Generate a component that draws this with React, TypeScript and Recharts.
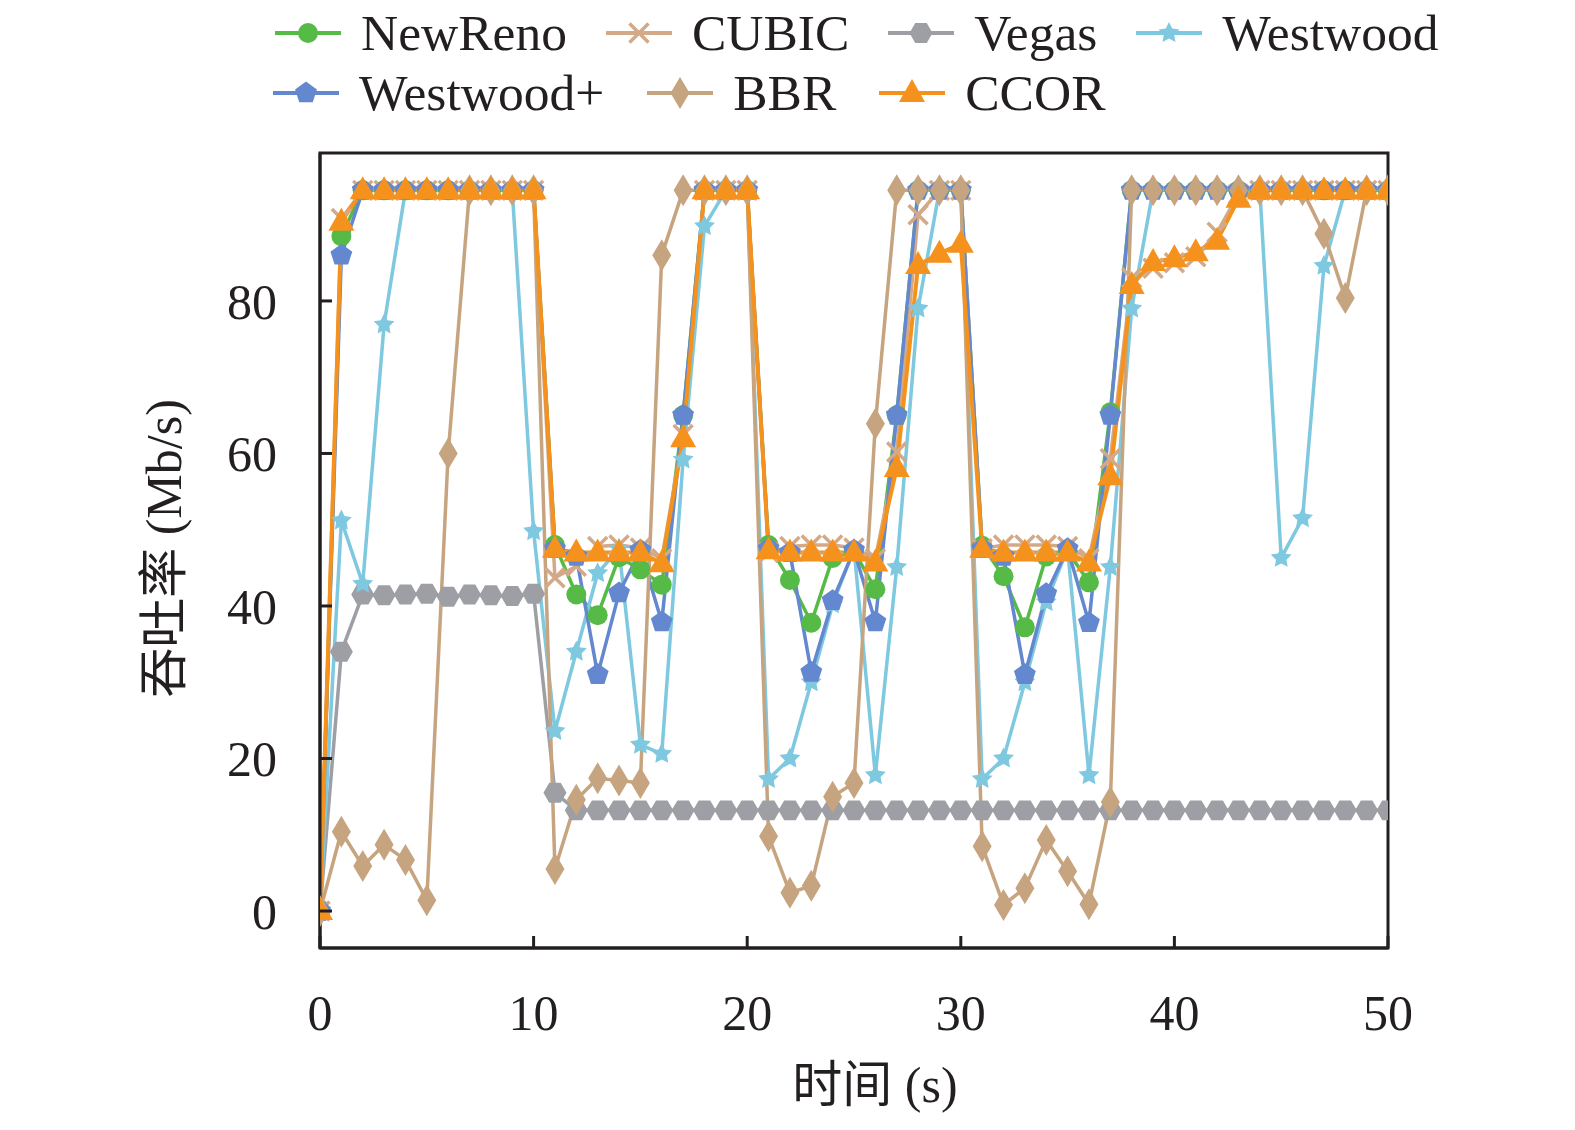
import React from 'react';
import { LineChart, Line, XAxis, YAxis, Legend, ReferenceArea } from 'recharts';

const TIME = [0, 1, 2, 3, 4, 5, 6, 7, 8, 9, 10, 11, 12, 13, 14, 15, 16, 17, 18, 19, 20, 21, 22, 23, 24, 25, 26, 27, 28, 29, 30, 31, 32, 33, 34, 35, 36, 37, 38, 39, 40, 41, 42, 43, 44, 45, 46, 47, 48, 49, 50];

const NEWRENO = [0, 88.5, 94.5, 94.5, 94.5, 94.5, 94.5, 94.5, 94.5, 94.5, 94.5, 48, 41.5, 38.8, 46.4, 44.8, 42.8, 65, 94.5, 94.5, 94.5, 48, 43.4, 37.8, 46.3, 47.2, 42.2, 65, 94.5, 94.5, 94.5, 47.9, 43.9, 37.2, 46.5, 47.2, 43.1, 65.4, 94.5, 94.5, 94.5, 94.5, 94.5, 94.5, 94.5, 94.5, 94.5, 94.5, 94.5, 94.5, 94.5];
const CUBIC = [0, 90.8, 94.5, 94.5, 94.5, 94.5, 94.5, 94.5, 94.5, 94.5, 94.5, 43.7, 45.2, 47.8, 48, 47.6, 46.2, 62.5, 94.5, 94.5, 94.5, 47, 47.8, 48, 48, 47.6, 46.2, 60.2, 91.3, 94.5, 94.5, 47.5, 48, 48, 48, 47.8, 46.2, 59.3, 83, 84.3, 85, 85.8, 89, 94, 94.5, 94.5, 94.5, 94.5, 94.5, 94.5, 94.5];
const VEGAS = [0, 34, 41.5, 41.4, 41.5, 41.6, 41.2, 41.5, 41.4, 41.3, 41.6, 15.5, 13.2, 13.2, 13.2, 13.2, 13.2, 13.2, 13.2, 13.2, 13.2, 13.2, 13.2, 13.2, 13.2, 13.2, 13.2, 13.2, 13.2, 13.2, 13.2, 13.2, 13.2, 13.2, 13.2, 13.2, 13.2, 13.2, 13.2, 13.2, 13.2, 13.2, 13.2, 13.2, 13.2, 13.2, 13.2, 13.2, 13.2, 13.2, 13.2];
const WESTWOOD = [0, 51.2, 42.9, 76.9, 94.5, 94.5, 94.5, 94.5, 94.5, 94.5, 49.8, 23.6, 34, 44.3, 47.5, 21.8, 20.6, 59.2, 89.8, 94.5, 94.5, 17.3, 20, 30, 40.2, 47.5, 17.8, 45.1, 79, 94.5, 94.5, 17.3, 20, 30, 40.5, 47.5, 17.8, 45.1, 79, 94.5, 94.5, 94.5, 94.5, 94.5, 94.5, 46.3, 51.5, 84.6, 94.5, 94.5, 94.5];
const WESTWOOD_PLUS = [0, 86, 94.5, 94.5, 94.5, 94.5, 94.5, 94.5, 94.5, 94.5, 94.5, 47.5, 46.5, 31, 41.7, 47.3, 37.9, 65, 94.5, 94.5, 94.5, 47.5, 47, 31.3, 40.7, 47.3, 37.9, 65, 94.5, 94.5, 94.5, 47.5, 46.5, 31, 41.6, 47.5, 37.8, 65, 94.5, 94.5, 94.5, 94.5, 94.5, 94.5, 94.5, 94.5, 94.5, 94.5, 94.5, 94.5, 94.5];
const BBR = [0, 10.4, 5.9, 8.7, 6.7, 1.4, 60, 94.5, 94.5, 94.5, 94.5, 5.5, 14.6, 17.4, 17.1, 16.8, 86, 94.5, 94.5, 94.5, 94.5, 9.8, 2.4, 3.3, 15, 16.8, 63.9, 94.5, 94.5, 94.5, 94.5, 8.5, 0.8, 3, 9.3, 5.2, 0.9, 14.3, 94.5, 94.5, 94.5, 94.5, 94.5, 94.5, 94.5, 94.5, 94.5, 88.8, 80.4, 94.5, 94.5];
const CCOR = [0, 90.4, 94.5, 94.5, 94.5, 94.5, 94.5, 94.5, 94.5, 94.5, 94.5, 47.5, 47, 47, 47, 47, 45.6, 62, 94.5, 94.5, 94.5, 47.3, 47, 47, 47, 47, 45.7, 58.1, 84.7, 86.2, 87.5, 47.5, 47, 47, 47, 47, 45.7, 57, 82.1, 85.1, 85.6, 86.4, 87.9, 93.4, 94.5, 94.5, 94.5, 94.5, 94.5, 94.5, 94.5];

const X_TICKS = [0, 10, 20, 30, 40, 50];
const Y_TICKS = [0, 20, 40, 60, 80];
const X_DOMAIN = [0, 50];
const Y_DOMAIN = [-4.85, 99.4];

const SERIES = [
  { key: 'NewReno', color: '#55BB46', shape: 'circle', values: NEWRENO },
  { key: 'CUBIC', color: '#D4A987', shape: 'cross', values: CUBIC },
  { key: 'Vegas', color: '#9D9FA4', shape: 'hexagon', values: VEGAS },
  { key: 'Westwood', color: '#7EC8E0', shape: 'star', values: WESTWOOD },
  { key: 'Westwood+', color: '#6388CF', shape: 'pentagon', values: WESTWOOD_PLUS },
  { key: 'BBR', color: '#C6A47F', shape: 'diamond', values: BBR },
  { key: 'CCOR', color: '#F5921E', shape: 'triangle', values: CCOR },
];

const LEGEND_ROWS = [
  ['NewReno', 'CUBIC', 'Vegas', 'Westwood'],
  ['Westwood+', 'BBR', 'CCOR'],
];

const data = TIME.map((t, i) => {
  const row: any = { t };
  SERIES.forEach((s) => {
    row[s.key] = s.values[i];
  });
  return row;
});

const FONT = '"Liberation Serif", "Times New Roman", "Noto Sans CJK SC", serif';
const INK = '#231F20';

function poly(cx: number, cy: number, n: number, r: number, rot: number) {
  const pts: string[] = [];
  for (let k = 0; k < n; k++) {
    const a = rot + (k * 2 * Math.PI) / n;
    pts.push(`${cx + r * Math.cos(a)},${cy + r * Math.sin(a)}`);
  }
  return pts.join(' ');
}

function starPts(cx: number, cy: number, ro: number, ri: number) {
  const pts: string[] = [];
  for (let k = 0; k < 10; k++) {
    const r = k % 2 === 0 ? ro : ri;
    const a = -Math.PI / 2 + (k * Math.PI) / 5;
    pts.push(`${cx + r * Math.cos(a)},${cy + r * Math.sin(a)}`);
  }
  return pts.join(' ');
}

function MarkerShape({ shape, cx, cy, color }: { shape: string; cx: number; cy: number; color: string }) {
  if (cx == null || cy == null || isNaN(cx) || isNaN(cy)) return null;
  switch (shape) {
    case 'circle':
      return <circle cx={cx} cy={cy} r={10} fill={color} />;
    case 'cross':
      return (
        <path
          d={`M${cx - 9.5},${cy - 9.5}L${cx + 9.5},${cy + 9.5}M${cx - 9.5},${cy + 9.5}L${cx + 9.5},${cy - 9.5}`}
          stroke={color}
          strokeWidth={3.5}
          fill="none"
        />
      );
    case 'hexagon':
      return <polygon points={poly(cx, cy, 6, 11.5, 0)} fill={color} />;
    case 'star':
      return <polygon points={starPts(cx, cy, 11, 5.5)} fill={color} />;
    case 'pentagon':
      return <polygon points={poly(cx, cy, 5, 11.5, -Math.PI / 2)} fill={color} />;
    case 'diamond':
      return <polygon points={`${cx},${cy - 16} ${cx + 9.5},${cy} ${cx},${cy + 16} ${cx - 9.5},${cy}`} fill={color} />;
    case 'triangle':
      return <polygon points={`${cx},${cy - 14} ${cx + 13},${cy + 9} ${cx - 13},${cy + 9}`} fill={color} />;
    default:
      return null;
  }
}

const XTick = (props: any) => {
  const { x, y, payload } = props;
  return (
    <g>
      <line x1={x} x2={x} y1={y} y2={y - 12} stroke={INK} strokeWidth={3} />
      <text x={x} y={y + 82} textAnchor="middle" fontFamily={FONT} fontSize={50} fill={INK}>
        {payload.value}
      </text>
    </g>
  );
};

const YTick = (props: any) => {
  const { x, y, payload } = props;
  return (
    <g>
      <line x1={x} x2={x + 12} y1={y} y2={y} stroke={INK} strokeWidth={3} />
      <text x={x - 43} y={y} dy="0.355em" textAnchor="end" fontFamily={FONT} fontSize={50} fill={INK}>
        {payload.value}
      </text>
    </g>
  );
};

const renderLegend = () => {
  const byKey: any = {};
  SERIES.forEach((s) => (byKey[s.key] = s));
  const rowLefts = [267, 265];
  const rowTops = [0, 60];
  const rowGaps = [39, 43];
  return (
    <div style={{ position: 'relative', width: 1559, height: 120, fontFamily: FONT, color: INK }}>
      {LEGEND_ROWS.map((row, ri) => (
        <div
          key={ri}
          style={{
            position: 'absolute',
            left: rowLefts[ri],
            top: rowTops[ri],
            height: 50,
            display: 'flex',
            alignItems: 'center',
            gap: rowGaps[ri],
            whiteSpace: 'nowrap',
          }}
        >
          {row.map((k) => {
            const s = byKey[k];
            return (
              <div key={k} style={{ display: 'flex', alignItems: 'center' }}>
                <svg width={66} height={40} style={{ marginRight: 20, overflow: 'visible' }}>
                  <line x1={0} x2={66} y1={20} y2={20} stroke={s.color} strokeWidth={4} />
                  <MarkerShape shape={s.shape} cx={33} cy={20} color={s.color} />
                </svg>
                <span style={{ fontSize: 51.5, lineHeight: '50px' }}>{k}</span>
              </div>
            );
          })}
        </div>
      ))}
    </div>
  );
};

export default function App() {
  return (
    <div style={{ width: 1559, height: 1114, background: '#fff' }}>
      <LineChart
        width={1559}
        height={1114}
        data={data}
        margin={{ top: 145, right: 179, bottom: 74, left: 100 }}
      >
        <Legend
          layout="vertical"
          align="center"
          verticalAlign="middle"
          wrapperStyle={{ top: 0, left: 0, width: 1559, height: 120 }}
          content={renderLegend}
        />
        <XAxis
          dataKey="t"
          type="number"
          domain={X_DOMAIN}
          ticks={X_TICKS}
          allowDataOverflow
          height={100}
          axisLine={{ stroke: INK, strokeWidth: 3 }}
          tickLine={false}
          tickSize={0}
          tickMargin={0}
          tick={<XTick />}
          interval={0}
          label={{
            content: (p: any) => {
              const vb = p.viewBox;
              return (
                <text
                  x={vb.x + vb.width / 2 + 21}
                  y={vb.y + 154}
                  textAnchor="middle"
                  fontFamily={FONT}
                  fontSize={50}
                  fill={INK}
                >
                  时间 (s)
                </text>
              );
            },
          }}
        />
        <YAxis
          type="number"
          domain={Y_DOMAIN}
          ticks={Y_TICKS}
          allowDataOverflow
          width={212}
          axisLine={{ stroke: INK, strokeWidth: 3 }}
          tickLine={false}
          tickSize={0}
          tickMargin={0}
          tick={<YTick />}
          interval={0}
          label={{
            content: (p: any) => {
              const vb = p.viewBox;
              const cx = vb.x + 56;
              const cy = vb.y + vb.height / 2 - 2;
              return (
                <text
                  x={cx}
                  y={cy}
                  transform={`rotate(-90, ${cx}, ${cy})`}
                  textAnchor="middle"
                  dominantBaseline="central"
                  fontFamily={FONT}
                  fontSize={50}
                  fill={INK}
                >
                  吞吐率 (Mb/s)
                </text>
              );
            },
          }}
        />
        {SERIES.map((s) => (
          <Line
            key={s.key}
            dataKey={s.key}
            type="linear"
            stroke={s.color}
            strokeWidth={s.key === 'CCOR' ? 4 : 3.5}
            isAnimationActive={false}
            legendType="none"
            dot={(p: any) => (
              <MarkerShape key={`${s.key}-${p.index}`} shape={s.shape} cx={p.cx} cy={p.cy} color={s.color} />
            )}
            activeDot={false}
          />
        ))}
        <ReferenceArea
          x1={X_DOMAIN[0]}
          x2={X_DOMAIN[1]}
          y1={Y_DOMAIN[0]}
          y2={Y_DOMAIN[1]}
          fill="none"
          fillOpacity={0}
          stroke={INK}
          strokeWidth={3}
          strokeOpacity={1}
          ifOverflow="visible"
        />
      </LineChart>
    </div>
  );
}
